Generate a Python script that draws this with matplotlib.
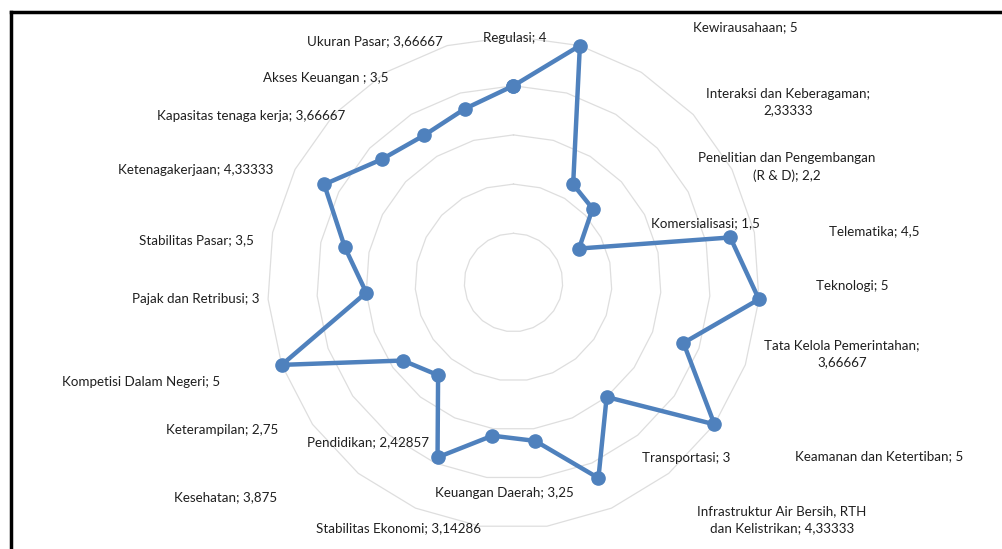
import numpy as np
import matplotlib
matplotlib.use("Agg")
import matplotlib.pyplot as plt
from matplotlib.lines import Line2D

# ---- data ----
categories = [
    "Regulasi", "Kewirausahaan", "Interaksi dan Keberagaman",
    "Penelitian dan Pengembangan\n(R & D)", "Komersialisasi", "Telematika",
    "Teknologi", "Tata Kelola Pemerintahan", "Keamanan dan Ketertiban",
    "Transportasi", "Infrastruktur Air Bersih, RTH\ndan Kelistrikan",
    "Keuangan Daerah", "Stabilitas Ekonomi", "Kesehatan", "Pendidikan",
    "Keterampilan", "Kompetisi Dalam Negeri", "Pajak dan Retribusi",
    "Stabilitas Pasar", "Ketenagakerjaan", "Kapasitas tenaga kerja",
    "Akses Keuangan ", "Ukuran Pasar",
]
values = [4, 5, 2.33333, 2.2, 1.5, 4.5, 5, 3.66667, 5, 3, 4.33333,
          3.25, 3.14286, 3.875, 2.42857, 2.75, 5, 3, 3.5, 4.33333,
          3.66667, 3.5, 3.66667]
wrap_after_semicolon = {"Interaksi dan Keberagaman", "Tata Kelola Pemerintahan"}

# label centres in pixels (x, y from top) – layout only
label_pos = [
    (515, 38), (745, 27), (788, 102), (787, 167), (705, 223), (874, 231),
    (852, 286), (842, 354), (879, 456), (686, 458), (782, 520),
    (504, 493), (399, 528), (226, 497), (368, 442), (222, 430),
    (141, 382), (196, 299), (196, 240), (196, 170), (251, 116),
    (326, 78), (375, 41),
]

W, H = 1003, 549
fig = plt.figure(figsize=(W / 100, H / 100), dpi=100)
fig.patch.set_facecolor("white")

cx, cy, R = 513.5, 282.5, 246
ax = fig.add_axes([(cx - R) / W, (H - cy - R) / H, 2 * R / W, 2 * R / H],
                  projection="polar")
ax.set_theta_zero_location("N")
ax.set_theta_direction(-1)
ax.set_ylim(0, 5)
ax.axis("off")

n = len(categories)
angles = np.linspace(0, 2 * np.pi, n, endpoint=False)
ang_c = np.concatenate([angles, angles[:1]])

# polygon gridlines
for r in [1, 2, 3, 4, 5]:
    ax.plot(ang_c, [r] * (n + 1), color="#DEDEDE", lw=0.9, zorder=1,
            clip_on=False)

vals_c = values + values[:1]
ax.plot(ang_c, vals_c, color="#4F81BD", lw=3.2, marker="o", markersize=9.5,
        markerfacecolor="#4F81BD", markeredgecolor="#4F81BD", zorder=3,
        clip_on=False, solid_joinstyle="round")

def fmt(v):
    return ("{:.6g}".format(v)).replace(".", ",")

for name, v, (px, py) in zip(categories, values, label_pos):
    sep = ";\n" if name in wrap_after_semicolon else "; "
    txt = name + sep + fmt(v)
    fig.text(px / W, 1 - py / H, txt, ha="center", va="center",
             multialignment="center", fontsize=9.6, family="Lato",
             color="#1F1F1F", linespacing=1.5)

# chart border (cropped at right/bottom)
fig.add_artist(Line2D([11 / W, 1.0], [1 - 12 / H, 1 - 12 / H],
                      transform=fig.transFigure, color="black", lw=2.5))
fig.add_artist(Line2D([11 / W, 11 / W], [1 - 12 / H, 0.0],
                      transform=fig.transFigure, color="black", lw=2.5))

fig.savefig("out.png", dpi=100)
